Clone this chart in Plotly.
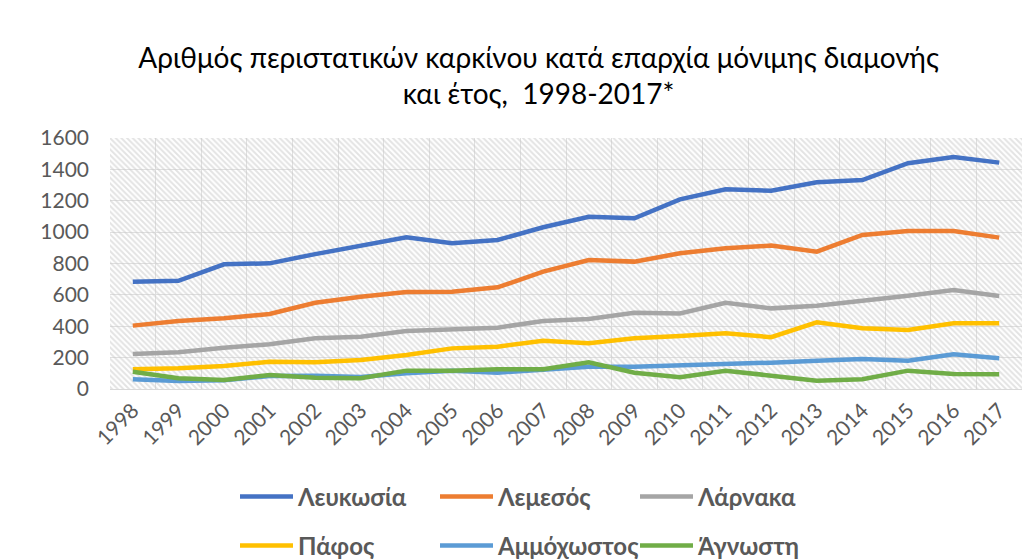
import plotly.graph_objects as go

years = [1998, 1999, 2000, 2001, 2002, 2003, 2004, 2005, 2006, 2007,
         2008, 2009, 2010, 2011, 2012, 2013, 2014, 2015, 2016, 2017]
year_labels = [str(y) for y in years]

lefkosia = [684, 690, 795, 801, 860, 910, 967, 929, 950, 1031,
            1098, 1088, 1209, 1273, 1264, 1318, 1332, 1439, 1478, 1443]
lemesos = [404, 434, 451, 478, 550, 588, 618, 620, 648, 748,
           822, 812, 865, 897, 914, 875, 982, 1007, 1007, 965]
larnaka = [223, 234, 263, 285, 323, 333, 370, 380, 391, 434,
           446, 486, 482, 550, 514, 531, 561, 595, 631, 593]
pafos = [126, 132, 147, 174, 170, 185, 217, 259, 270, 308,
         291, 323, 338, 355, 330, 425, 387, 376, 419, 419]
ammochostos = [62, 51, 55, 83, 85, 76, 100, 117, 104, 121,
               142, 142, 149, 157, 168, 180, 191, 180, 221, 196]
agnosti = [110, 68, 57, 89, 72, 68, 117, 117, 126, 126,
           170, 104, 75, 117, 85, 53, 62, 117, 96, 94]

names = ["Λευκωσία", "Λεμεσός", "Λάρνακα", "Πάφος", "Αμμόχωστος", "Άγνωστη"]
series = [lefkosia, lemesos, larnaka, pafos, ammochostos, agnosti]
colors = ["#4472C4", "#ED7D31", "#A5A5A5", "#FFC000", "#5B9BD5", "#70AD47"]
legend_ids = ["legend", "legend", "legend", "legend2", "legend2", "legend2"]

y_min, y_max = 0, 1600
x_lo, x_hi = years[0] - 0.5, years[-1] + 0.5

FONT = "Lato, Carlito, Open Sans, sans-serif"
GREY_TXT = "#595959"

fig = go.Figure()

# hatched plot-area background
fig.add_trace(go.Scatter(
    x=[x_lo, x_hi, x_hi, x_lo, x_lo],
    y=[y_min, y_min, y_max, y_max, y_min],
    fill="toself", mode="lines", line=dict(width=0),
    fillcolor="rgba(0,0,0,0)",
    fillpattern=dict(shape="\\", fgcolor="#c8c8c8", bgcolor="rgba(0,0,0,0)",
                     size=4, solidity=0.5),
    hoverinfo="skip", showlegend=False,
))

for name, vals, col, lg in zip(names, series, colors, legend_ids):
    fig.add_trace(go.Scatter(
        x=years, y=vals, name=name, mode="lines",
        line=dict(color=col, width=4.5),
        legend=lg,
    ))

legend_common = dict(
    orientation="h", xanchor="left", yanchor="middle",
    xref="container", yref="container",
    entrywidth=132, entrywidthmode="pixels",
    font=dict(family=FONT, size=24, color=GREY_TXT, weight="bold"),
    bgcolor="rgba(0,0,0,0)", itemwidth=53,
)

fig.update_layout(
    width=1031, height=559,
    margin=dict(l=110, r=9, t=138, b=170, autoexpand=False),
    paper_bgcolor="white", plot_bgcolor="white",
    title=dict(
        text="Αριθμός περιστατικών καρκίνου κατά επαρχία μόνιμης διαμονής<br>και έτος,\u00a0 1998-2017*",
        x=0.47, xanchor="center", xref="paper",
        y=1 - 68 / 559, yanchor="middle", yref="container",
        font=dict(family=FONT, size=28, color="#000000"),
    ),
    xaxis=dict(
        range=[x_lo, x_hi], automargin=False,
        tickmode="array", tickvals=years, ticktext=year_labels,
        tickangle=-45, showgrid=False, zeroline=False,
        showline=True, linecolor="#d9d9d9", linewidth=1,
        ticks="", tickfont=dict(family=FONT, size=21, color=GREY_TXT),
        minor=dict(showgrid=True, gridcolor="#e0e0e0", gridwidth=1,
                   tick0=x_lo, dtick=1, ticks=""),
    ),
    yaxis=dict(
        range=[y_min, y_max], tick0=0, dtick=200, automargin=False,
        showgrid=True, gridcolor="#e0e0e0", gridwidth=1,
        zeroline=False, showline=False, ticks="",
        ticklabelstandoff=20,
        tickfont=dict(family=FONT, size=21, color=GREY_TXT),
    ),
    legend=dict(x=235 / 1031, y=1 - 497 / 559, **legend_common),
    legend2=dict(x=235 / 1031, y=1 - 546 / 559, **legend_common),
    showlegend=True,
)

fig.write_html("out.html")
